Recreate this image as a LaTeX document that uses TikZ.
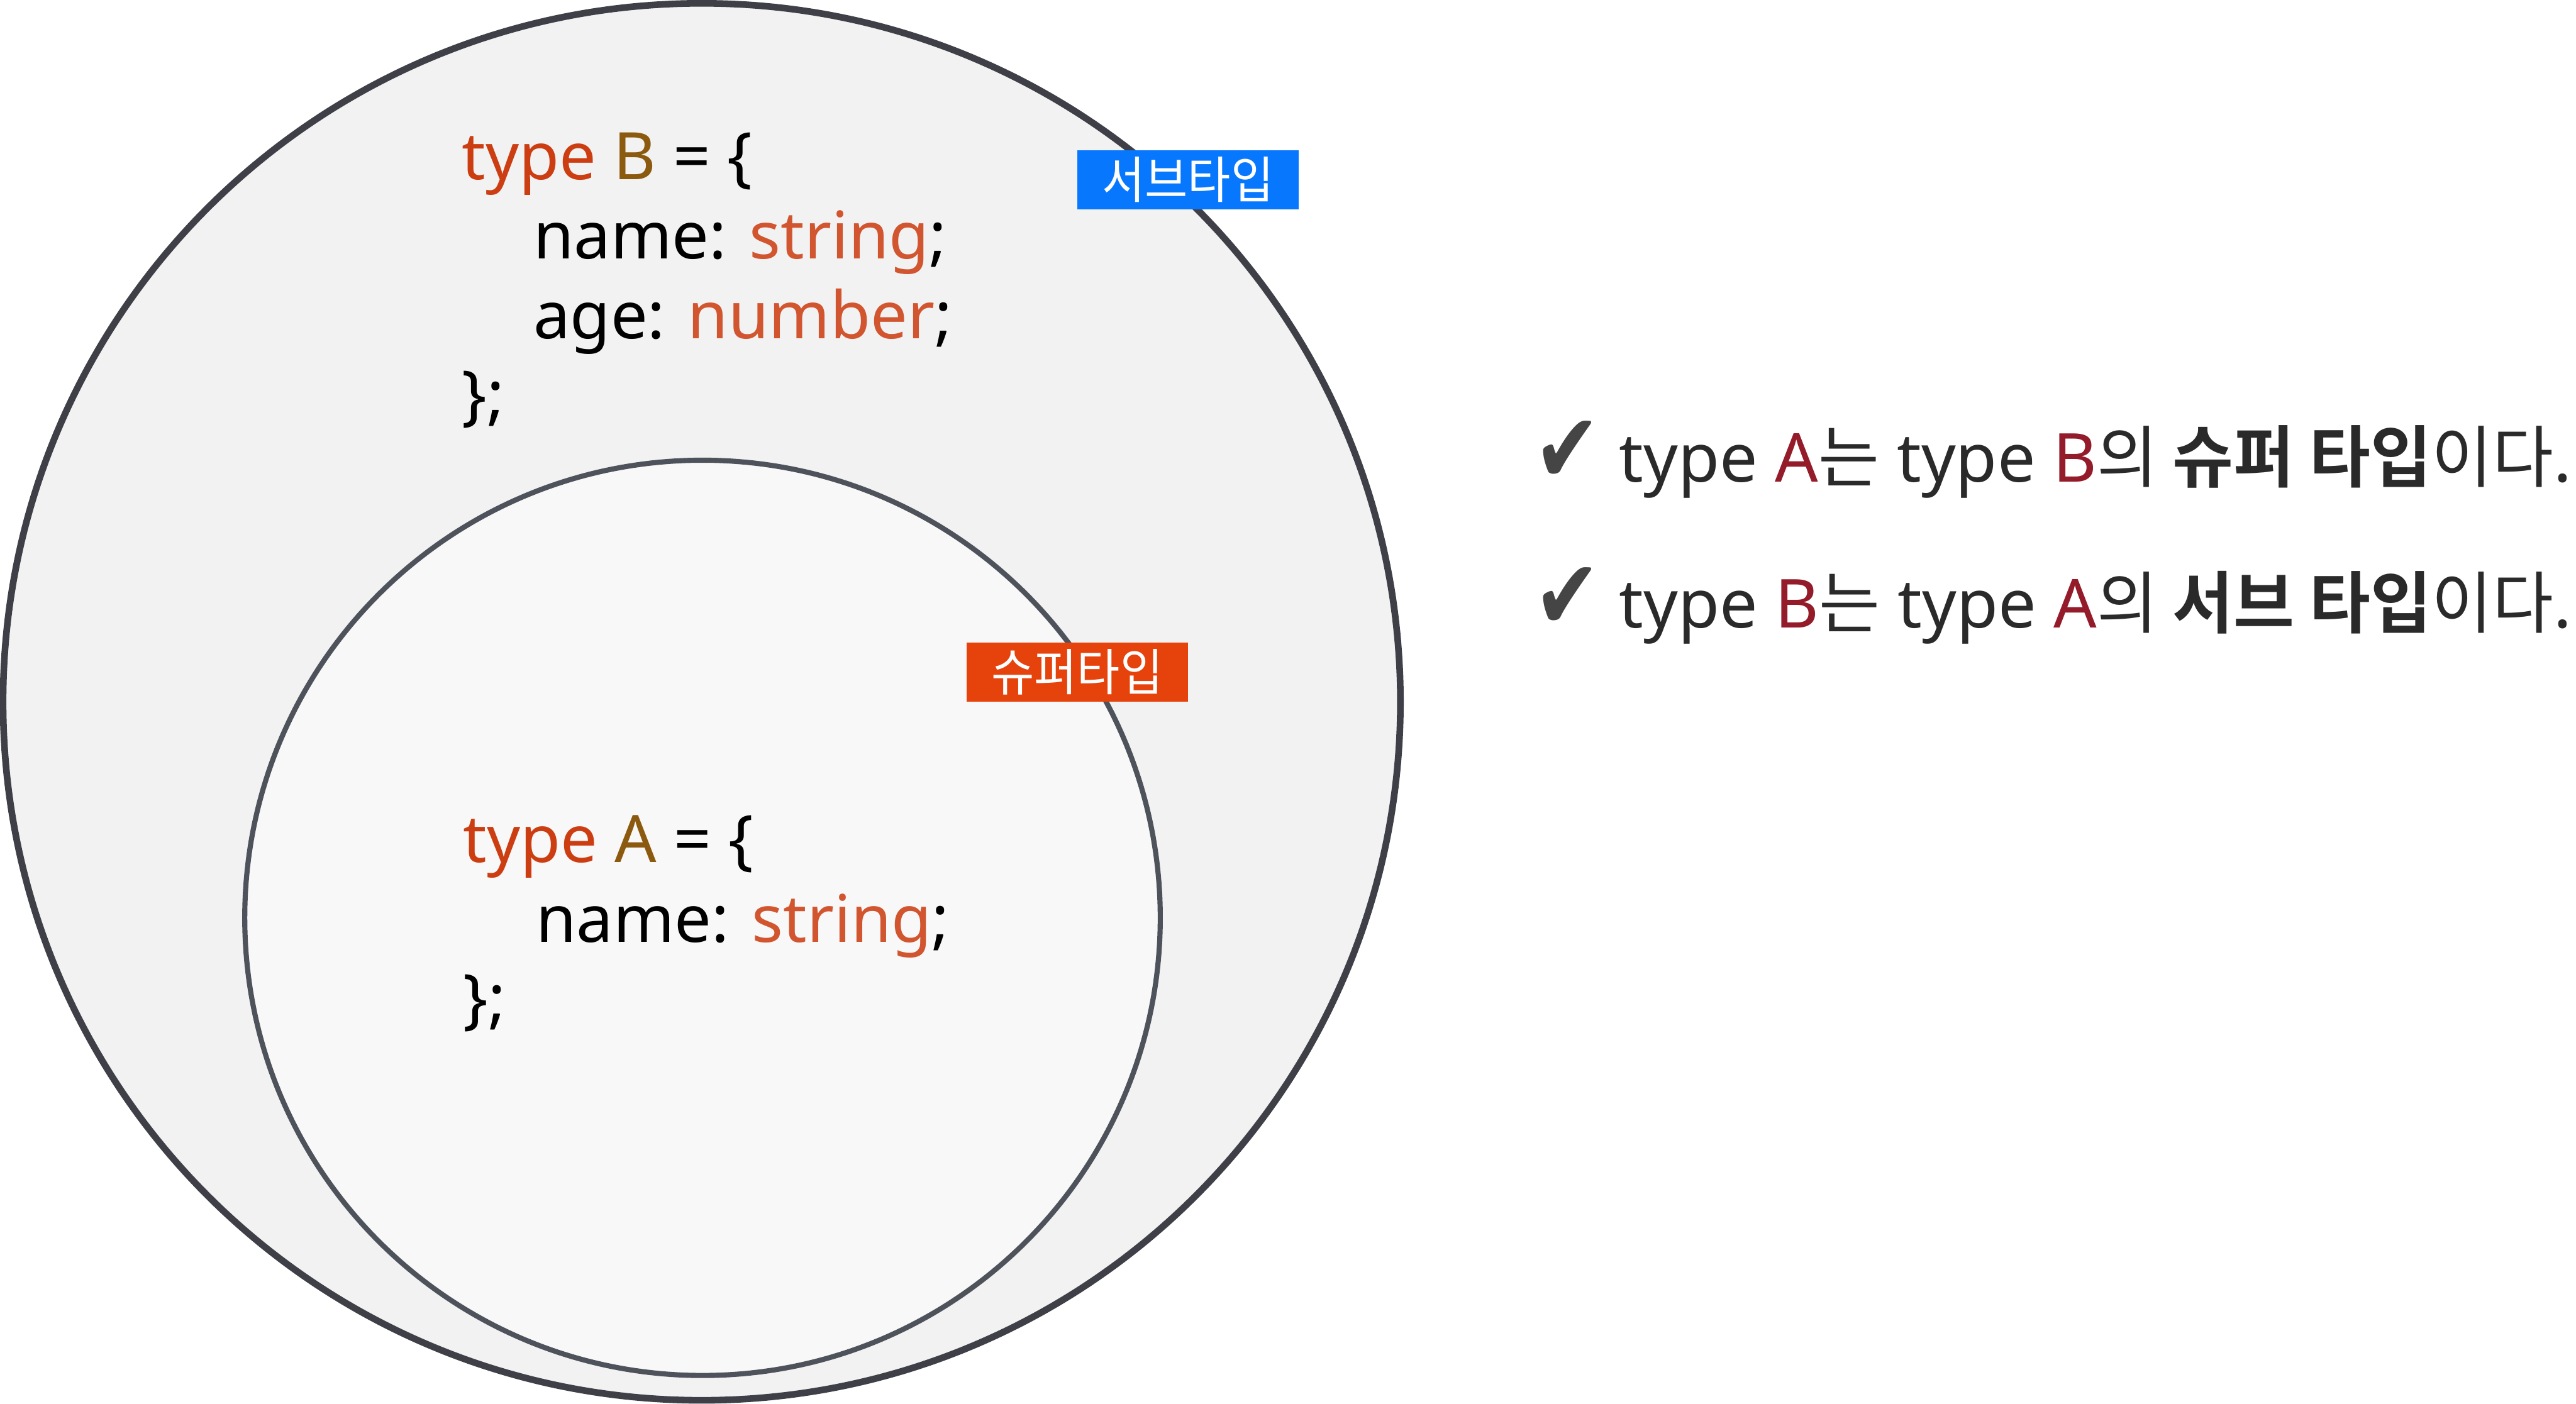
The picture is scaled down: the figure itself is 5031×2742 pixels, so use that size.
\documentclass[tikz,border=0pt]{standalone}
\usepackage{fontspec}
\setmainfont{Noto Sans}
\newfontfamily\korf[FakeStretch=0.98,BoldFont={Noto Sans CJK KR Bold}]{Noto Sans CJK KR}
\newfontfamily\tagf[FakeStretch=0.93]{Noto Sans CJK KR}
\newfontfamily\symf{DejaVu Sans}
\definecolor{outerline}{HTML}{3F3F47}
\definecolor{outerfill}{HTML}{F2F2F2}
\definecolor{innerline}{HTML}{4E525B}
\definecolor{innerfill}{HTML}{F8F8F8}
\definecolor{kwtype}{HTML}{CC3E12}
\definecolor{tname}{HTML}{8C5A0F}
\definecolor{tprim}{HTML}{D1552F}
\definecolor{tagblue}{HTML}{0778FE}
\definecolor{tagorange}{HTML}{E6420C}
\definecolor{rtxt}{HTML}{2A2A2A}
\definecolor{rred}{HTML}{931B2A}
\definecolor{checkc}{HTML}{454545}
\newcommand{\kw}[1]{\textcolor{kwtype}{#1}}
\newcommand{\tn}[1]{\textcolor{tname}{#1}}
\newcommand{\tp}[1]{\textcolor{tprim}{#1}}
\newcommand{\rr}[1]{\textcolor{rred}{#1}}
\begin{document}
\begin{tikzpicture}[x=1pt,y=-1pt,
  code/.style={anchor=base west, inner sep=0pt, font=\fontsize{128}{155}\selectfont},
  rtext/.style={anchor=base west, inner sep=0pt, text=rtxt, font=\fontsize{132}{150}\selectfont},
  tag/.style={minimum width=432pt, minimum height=116pt, inner sep=0pt, text=white, font=\tagf\fontsize{98}{110}\selectfont},
  checkmk/.style={anchor=base west, inner sep=0pt, text=checkc, font=\symf\fontsize{155}{160}\selectfont}
]
\useasboundingbox (0,0) rectangle (5031,2742);
% circles
\node[circle, draw=outerline, fill=outerfill, line width=13pt, minimum size=2729pt, inner sep=0pt] (outer) at (1370.5,1371) {};
\node[circle, draw=innerline, fill=innerfill, line width=10pt, minimum size=1788pt, inner sep=0pt] (inner) at (1372,1793) {};
% type B
\node[code] (b1) at (902,351) {\kw{type} \tn{B} = \{};
\node[code] (b2) at (1042,506) {name: \tp{string};};
\node[code] (b3) at (1042,661) {age: \tp{number};};
\node[code] (b4) at (902,816) {\};};
% type A
\node[code] (a1) at (905,1685) {\kw{type} \tn{A} = \{};
\node[code] (a2) at (1047,1840) {name: \tp{string};};
\node[code] (a3) at (905,1995) {\};};
% tags
\node[tag, fill=tagblue] (subtag) at (2320,351) {서브타입};
\node[tag, fill=tagorange] (suptag) at (2104,1313) {슈퍼타입};
% right statements
\node[checkmk] (ck1) at (2996,943) {\scalebox{1}[1.23]{✔}};
\node[rtext] (s1) at (3162,941) {type \rr{A}{\korf 는} type \rr{B}{\korf 의 \textbf{슈퍼 타입}이다}.};
\node[checkmk] (ck2) at (2996,1229) {\scalebox{1}[1.23]{✔}};
\node[rtext] (s2) at (3162,1227) {type \rr{B}{\korf 는} type \rr{A}{\korf 의 \textbf{서브 타입}이다}.};
\end{tikzpicture}
\end{document}
